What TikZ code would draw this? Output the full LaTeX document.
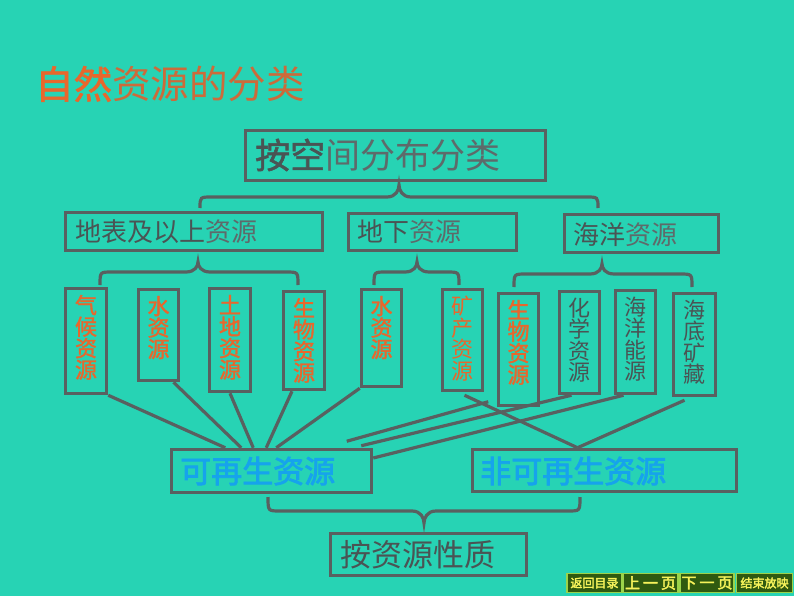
\documentclass[tikz,border=0pt]{standalone}
\usepackage{fontspec}
\setmainfont{Noto Sans CJK SC}
\newfontfamily\semib{Noto Sans CJK SC}[FakeBold=1.6]
\newfontfamily\semibb{Noto Sans CJK SC}[FakeBold=2.6]
\usetikzlibrary{calc}
\definecolor{bg}{HTML}{27D3B4}
\definecolor{lineg}{HTML}{596060}
\definecolor{txtg}{HTML}{4A5454}
\definecolor{txtl}{HTML}{5E6A6A}
\definecolor{orng}{HTML}{E8672C}
\definecolor{orng2}{HTML}{CC6B3A}
\definecolor{blu}{HTML}{16A3EC}
\definecolor{navfill}{HTML}{2F5A10}
\definecolor{navline}{HTML}{9BD34A}
\definecolor{navtxt}{HTML}{F6F25A}
\newcommand{\myfs}[1]{\fontsize{#1}{#1}\selectfont}
\newcommand{\mybrace}[6]{% xl, xr, xm, yend, yh, ytip
  \draw[bracestyle] (#1,#4) .. controls (#1,#5) .. ({#1+12},#5) -- ({#3-12},#5)
    .. controls ({#3-3},#5) and (#3,{#6+0.4*(#5-#6)}) .. (#3,#6)
    .. controls (#3,{#6+0.4*(#5-#6)}) and ({#3+3},#5) .. ({#3+12},#5)
    -- ({#2-12},#5) .. controls (#2,#5) .. (#2,#4);}
\begin{document}
\begin{tikzpicture}[x=1pt,y=-1pt,
  box/.style={draw=lineg, line width=3.5pt, inner sep=0pt},
  vbox/.style={box, minimum width=40pt},
  conn/.style={draw=lineg, line width=3.2pt},
  bracestyle/.style={draw=lineg, line width=3.2pt},
  lbl/.style={inner sep=0pt, anchor=west},
  vtxt/.style={inner sep=0pt, anchor=north, align=center, font=\fontsize{22}{21.5}\selectfont},
  vtxtb/.style={vtxt, font=\semib\fontsize{22}{21.5}\selectfont},
  navbtn/.style={draw=navline, fill=navfill, line width=1.3pt, minimum height=19pt, inner sep=0pt, text=navtxt, font=\semibb}
]
\fill[bg] (0,0) rectangle (794,596);
\useasboundingbox (0,0) rectangle (794,596);

% title
\node[lbl] (title) at (35,84) {\myfs{38.5}\textcolor{orng}{\semib 自然}\textcolor{orng2}{资源的分类}};

% top box
\node[box, minimum width=300pt, minimum height=50pt] (top) at (395.5,155.5) {};
\node[lbl] (toptxt) at (255,155) {\myfs{35}\textcolor{txtg}{\semib 按空}\textcolor{txtl}{间分布分类}};

% level 2
\node[box, minimum width=257pt, minimum height=38pt] (db) at (194,231.5) {};
\node[lbl] (dbtxt) at (75,232) {\myfs{26}\textcolor{txtg}{地表及以上}\textcolor{txtl}{资源}};
\node[box, minimum width=168pt, minimum height=37pt] (dx) at (432.5,232) {};
\node[lbl] (dxtxt) at (357,232) {\myfs{26}\textcolor{txtg}{地下}\textcolor{txtl}{资源}};
\node[box, minimum width=154pt, minimum height=38pt] (hy) at (641.5,233.5) {};
\node[lbl] (hytxt) at (573,235) {\myfs{26}\textcolor{txtg}{海洋}\textcolor{txtl}{资源}};

% braces
\mybrace{200}{598}{399}{208}{197}{185}
\mybrace{100}{298}{198}{285}{272}{262}
\mybrace{374}{459}{417}{285}{272}{262}
\mybrace{514}{692}{602}{287}{274}{264}
\mybrace{268}{580}{424}{497}{511}{523}

% vertical boxes
\node[vbox, minimum height=105pt, minimum width=41pt] (qh) at (86,341) {};
\node[vbox, minimum height=91pt] (sw1) at (158.5,335) {};
\node[vbox, minimum height=103pt, minimum width=41pt] (td) at (230,340) {};
\node[vbox, minimum height=98pt, minimum width=41pt] (swa) at (304,340.5) {};
\node[vbox, minimum height=97pt] (sw2) at (381.5,338) {};
\node[vbox, minimum height=101pt] (kc) at (462.5,340) {};
\node[vbox, minimum height=112pt] (swb) at (518.5,349.5) {};
\node[vbox, minimum height=102pt] (hx) at (579.5,342.5) {};
\node[vbox, minimum height=103pt] (hyn) at (635.5,342) {};
\node[vbox, minimum height=102pt, minimum width=42pt] (hd) at (694.5,344.5) {};

\node[vtxtb, text=orng] (qht) at ($(qh.north)+(0,8)$) {气\\候\\资\\源};
\node[vtxtb, text=orng] (sw1t) at ($(sw1.north)+(0,8)$) {水\\资\\源};
\node[vtxtb, text=orng] (tdt) at ($(td.north)+(0,8)$) {土\\地\\资\\源};
\node[vtxtb, text=orng] (swat) at ($(swa.north)+(0,8)$) {生\\物\\资\\源};
\node[vtxtb, text=orng] (sw2t) at ($(sw2.north)+(0,8)$) {水\\资\\源};
\node[vtxt, text=orng] (kct) at ($(kc.north)+(0,8)$) {矿\\产\\资\\源};
\node[vtxtb, text=orng] (swbt) at ($(swb.north)+(0,8)$) {生\\物\\资\\源};
\node[vtxt, text=txtg] (hxt) at ($(hx.north)+(0,8)$) {化\\学\\资\\源};
\node[vtxt, text=txtg] (hynt) at ($(hyn.north)+(0,8)$) {海\\洋\\能\\源};
\node[vtxt, text=txtg] (hdt) at ($(hd.north)+(0,8)$) {海\\底\\矿\\藏};

% bottom boxes
\node[box, minimum width=200pt, minimum height=43pt] (kz) at (271.5,471) {};
\node[lbl] (kzt) at (180,471) {\myfs{31}\semibb\textcolor{blu}{可再生资源}};
\node[box, minimum width=264pt, minimum height=42pt] (fkz) at (604.5,470.5) {};
\node[lbl] (fkzt) at (480,471) {\myfs{31}\semibb\textcolor{blu}{非可再生资源}};
\node[box, minimum width=196pt, minimum height=42pt] (xz) at (428.5,554.5) {};
\node[lbl] (xzt) at (340,555) {\myfs{31}\textcolor{txtg}{按资源性质}};

% connectors to renewable
\draw[conn] (qh.south east) -- ($(kz.north west)+(55.5,0)$);
\draw[conn] ($(sw1.south)+(15,0)$) -- ($(kz.north west)+(71.5,0)$);
\draw[conn] (td.south) -- ($(kz.north west)+(83.5,0)$);
\draw[conn] ($(swa.south)+(-12,0)$) -- ($(kz.north west)+(96.5,0)$);
\draw[conn] (sw2.south west) -- ($(kz.north west)+(106.5,0)$);
\draw[conn] ($(swb.south west)+(-8.5,-5.5)$) -- ($(kz.north east)+(-26.5,-6.5)$);
\draw[conn] ($(hx.south)+(-8,0)$) -- ($(kz.north east)+(-12,-2)$);
\draw[conn] ($(hyn.south)+(-12,0)$) -- ($(kz.east)+(0,-13)$);
% connectors to non-renewable
\draw[conn] ($(kc.south)+(2,3)$) -- ($(fkz.north)+(-27,0)$);
\draw[conn] ($(hd.south)+(-10,3)$) -- ($(fkz.north)+(-27,0)$);

% navigation buttons
\node[navbtn, minimum width=55pt] (nav1) at (594.5,583) {\myfs{12}返回目录};
\node[navbtn, minimum width=55pt] (nav2) at (650.5,583) {\myfs{15}上\hspace{3pt}一\hspace{3pt}页};
\node[navbtn, minimum width=54pt] (nav3) at (707,583) {\myfs{15}下\hspace{3pt}一\hspace{3pt}页};
\node[navbtn, minimum width=56pt] (nav4) at (764.5,583) {\myfs{12}结束放映};
\end{tikzpicture}
\end{document}
